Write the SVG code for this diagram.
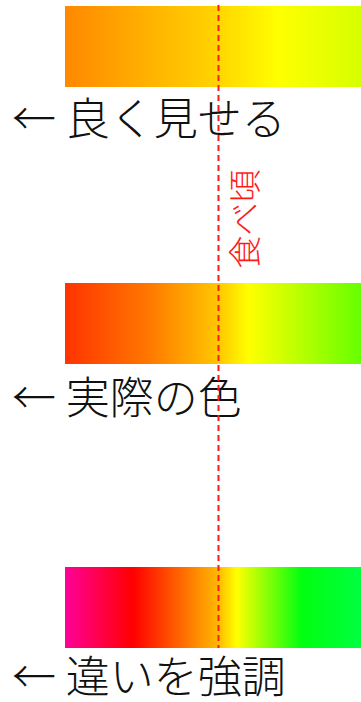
<svg xmlns="http://www.w3.org/2000/svg" width="361" height="702" viewBox="0 0 361 702">
<style>
.lbl{font-family:"Noto Sans CJK JP","Noto Sans",sans-serif;font-size:44px;font-weight:300;fill:#111}
.vt{font-family:"Noto Sans CJK JP","Noto Sans",sans-serif;font-size:33px;font-weight:300;fill:#ff1a1a}
.guide{stroke:#ff1a1a;stroke-width:2;stroke-dasharray:6 4;fill:none}
</style>
<defs>
<linearGradient id="g1" x1="0" y1="0" x2="1" y2="0">
<stop offset="0" stop-color="#ff8800"/>
<stop offset="0.5" stop-color="#ffd200"/>
<stop offset="0.72" stop-color="#ffff00"/>
<stop offset="1" stop-color="#d6ff00"/>
</linearGradient>
<linearGradient id="g2" x1="0" y1="0" x2="1" y2="0">
<stop offset="0" stop-color="#ff3300"/>
<stop offset="0.28" stop-color="#ff7700"/>
<stop offset="0.52" stop-color="#ffc800"/>
<stop offset="0.62" stop-color="#ffff00"/>
<stop offset="1" stop-color="#66ff00"/>
</linearGradient>
<linearGradient id="g3" x1="0" y1="0" x2="1" y2="0">
<stop offset="0" stop-color="#ff0099"/>
<stop offset="0.23" stop-color="#ff0000"/>
<stop offset="0.52" stop-color="#ffbb00"/>
<stop offset="0.58" stop-color="#ffff00"/>
<stop offset="0.8" stop-color="#00ff10"/>
<stop offset="1" stop-color="#00ff40"/>
</linearGradient>
</defs>
<g id="bar-good">
<rect x="65" y="6" width="296" height="81" fill="url(#g1)"/>
<text class="lbl" x="12" y="135">← 良く見せる</text>
</g>
<g id="bar-actual">
<rect x="65" y="283" width="296" height="81" fill="url(#g2)"/>
<text class="lbl" x="12" y="414">← 実際の色</text>
</g>
<g id="bar-emphasis">
<rect x="65" y="567" width="296" height="81" fill="url(#g3)"/>
<text class="lbl" x="12" y="693">← 違いを強調</text>
</g>
<g id="connectors">
<line class="guide" x1="218.5" y1="5" x2="218.5" y2="648"/>
</g>
<g id="ripe-label">
<text class="vt" transform="translate(257,219) rotate(-90)" text-anchor="middle">食べ頃</text>
</g>
</svg>
